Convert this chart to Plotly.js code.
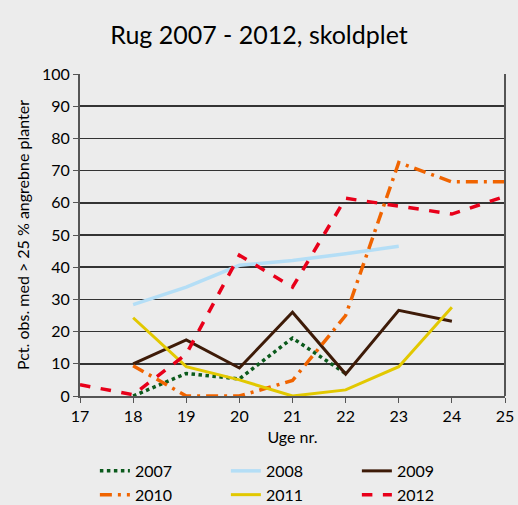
<!DOCTYPE html>
<html><head><meta charset="utf-8">
<script src="https://cdn.plot.ly/plotly-3.0.1.min.js"></script>
<style>body{margin:0;background:#ececec;}#c{width:518px;height:505px;}</style>
</head><body><div id="c"></div>
<script>
const weeks = [17, 18, 19, 20, 21, 22, 23, 24, 25];
const y2007 = [null, 0, 7, 5.3, 18, 7, null, null, null];
const y2008 = [null, 28.4, 33.8, 40.6, 42.1, 44.2, 46.5, null, null];
const y2009 = [null, 10, 17.4, 8.7, 26, 6.8, 26.6, 23.2, null];
const y2010 = [null, 9.4, 0, 0, 4.8, 25, 72.5, 66.5, 66.5];
const y2011 = [null, 24.3, 9.1, 5, 0, 1.9, 9.1, 27.6, null];
const y2012 = [3.5, 0.4, 13, 43.7, 33.8, 61.4, 59, 56.5, 62];
const seriesNames = ['2007', '2008', '2009', '2010', '2011', '2012'];
const seriesData = [y2007, y2008, y2009, y2010, y2011, y2012];
const colors = ['#0b5a1c', '#b4def6', '#3e1b08', '#f06400', '#e2c800', '#e8001a'];
const dashes = ['dot', 'solid', 'solid', '12px,6px,3px,6px', 'solid', 'dash'];
const widths = [3.5, 3.5, 3, 3.5, 3, 3.5];

const traces = seriesNames.map((n, i) => ({
  x: weeks, y: seriesData[i], name: n, type: 'scatter', mode: 'lines',
  connectgaps: false,
  line: {color: colors[i], width: widths[i], dash: dashes[i]}
}));

const font = 'Lato, "Open Sans", sans-serif';
const layout = {
  width: 518, height: 505,
  paper_bgcolor: '#ececec', plot_bgcolor: '#ececec',
  margin: {l: 80, r: 13, t: 74, b: 109, autoexpand: false},
  font: {family: font, color: '#000', size: 16},
  title: {text: 'Rug 2007 - 2012, skoldplet', x: 0.5, xanchor: 'center', y: 0.93, yanchor: 'middle', font: {size: 25, family: font}},
  xaxis: {
    range: [17, 25], tickvals: weeks, ticks: 'outside', ticklen: 5, tickcolor: '#555',
    showgrid: false, zeroline: false, showline: true, linecolor: '#555', linewidth: 2, mirror: false,
    title: {text: 'Uge nr.', standoff: 8, font: {size: 16}}
  },
  yaxis: {
    range: [0, 100], dtick: 10, ticks: 'outside', ticklen: 5, tickcolor: '#555',
    showgrid: true, gridcolor: '#333', gridwidth: 1.5, zeroline: false,
    showline: true, linecolor: '#555', linewidth: 2,
    title: {text: 'Pct. obs. med > 25 % angrebne planter', standoff: 8, font: {size: 16}}
  },
  shapes: [{type: 'line', xref: 'paper', yref: 'paper', x0: 1, x1: 1, y0: 0, y1: 1, line: {color: '#555', width: 2}}],
  legend: {orientation: 'h', x: 0.035, y: -0.18, xanchor: 'left', yanchor: 'top',
    entrywidth: 86, entrywidthmode: 'pixels', bgcolor: 'rgba(0,0,0,0)', font: {size: 16}, tracegroupgap: 0},
  showlegend: true
};
Plotly.newPlot('c', traces, layout, {displayModeBar: false, staticPlot: true});
</script></body></html>
